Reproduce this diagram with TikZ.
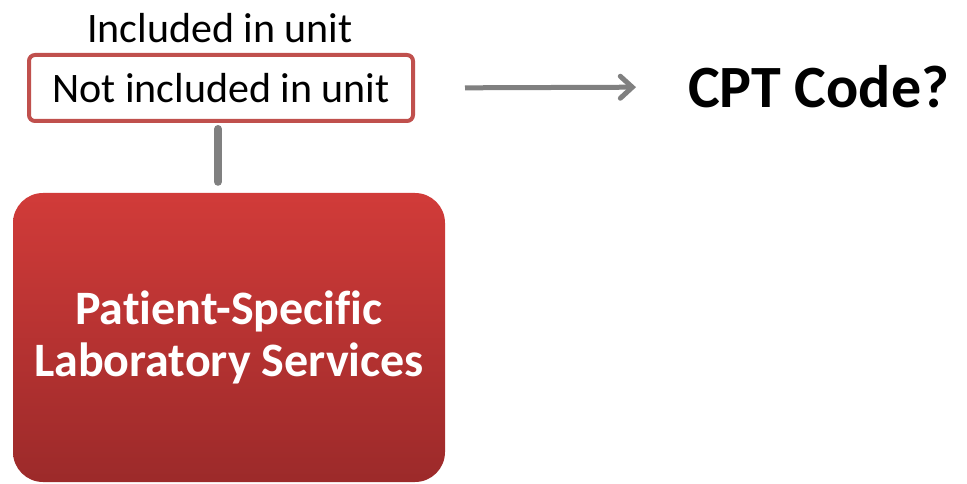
\documentclass[tikz,border=0pt]{standalone}
\usepackage{fontspec}
\setmainfont[Ligatures=NoCommon]{Carlito}
\usetikzlibrary{arrows.meta}
\definecolor{unitred}{RGB}{192,80,77}
\definecolor{labtop}{RGB}{209,59,57}
\definecolor{labbottom}{RGB}{156,42,42}
\definecolor{linkgray}{RGB}{128,128,128}
\tikzset{
	plain/.style={
		inner sep=0pt,
		font=\fontsize{42}{50}\selectfont,
	},
	unitbox/.style={
		draw=unitred,
		line width=4pt,
		rounded corners=6pt,
		fill=white,
		minimum width=384pt,
		minimum height=66pt,
		inner sep=0pt,
		font=\fontsize{42}{50}\selectfont,
	},
	labbox/.style={
		rectangle,
		rounded corners=30pt,
		top color=labtop,
		bottom color=labbottom,
		minimum width=432pt,
		minimum height=289pt,
		text=white,
		align=center,
		font=\fontsize{48}{52}\selectfont\bfseries,
	},
	link/.style={
		draw=linkgray,
		line width=8pt,
		line cap=round,
	},
	next/.style={
		draw=linkgray,
		line width=5pt,
		-{Straight Barb[length=12pt,width=22pt,line cap=round]},
	},
}

\begin{document}
\begin{tikzpicture}[x=1pt,y=-1pt]
	\useasboundingbox (0,0) rectangle (967,484);

	\node[plain]   (incl) at (220,28) {Included in unit};
	\node[unitbox] (notincl) at (221,88) {Not included in unit};

	\node[labbox]  (lab) at (229,337.5) {Patient-Specific\\Laboratory Services};

	\node[plain, font=\fontsize{60}{66}\selectfont\bfseries, anchor=west] (cpt) at (688,87) {CPT Code?};

	\draw[link, shorten <=6pt, shorten >=11pt] (notincl.south -| 218,0) -- (lab.north -| 218,0);
	\draw[next, shorten <=50pt, shorten >=52pt] (notincl.east) -- (cpt.west);

\end{tikzpicture}
\end{document}
